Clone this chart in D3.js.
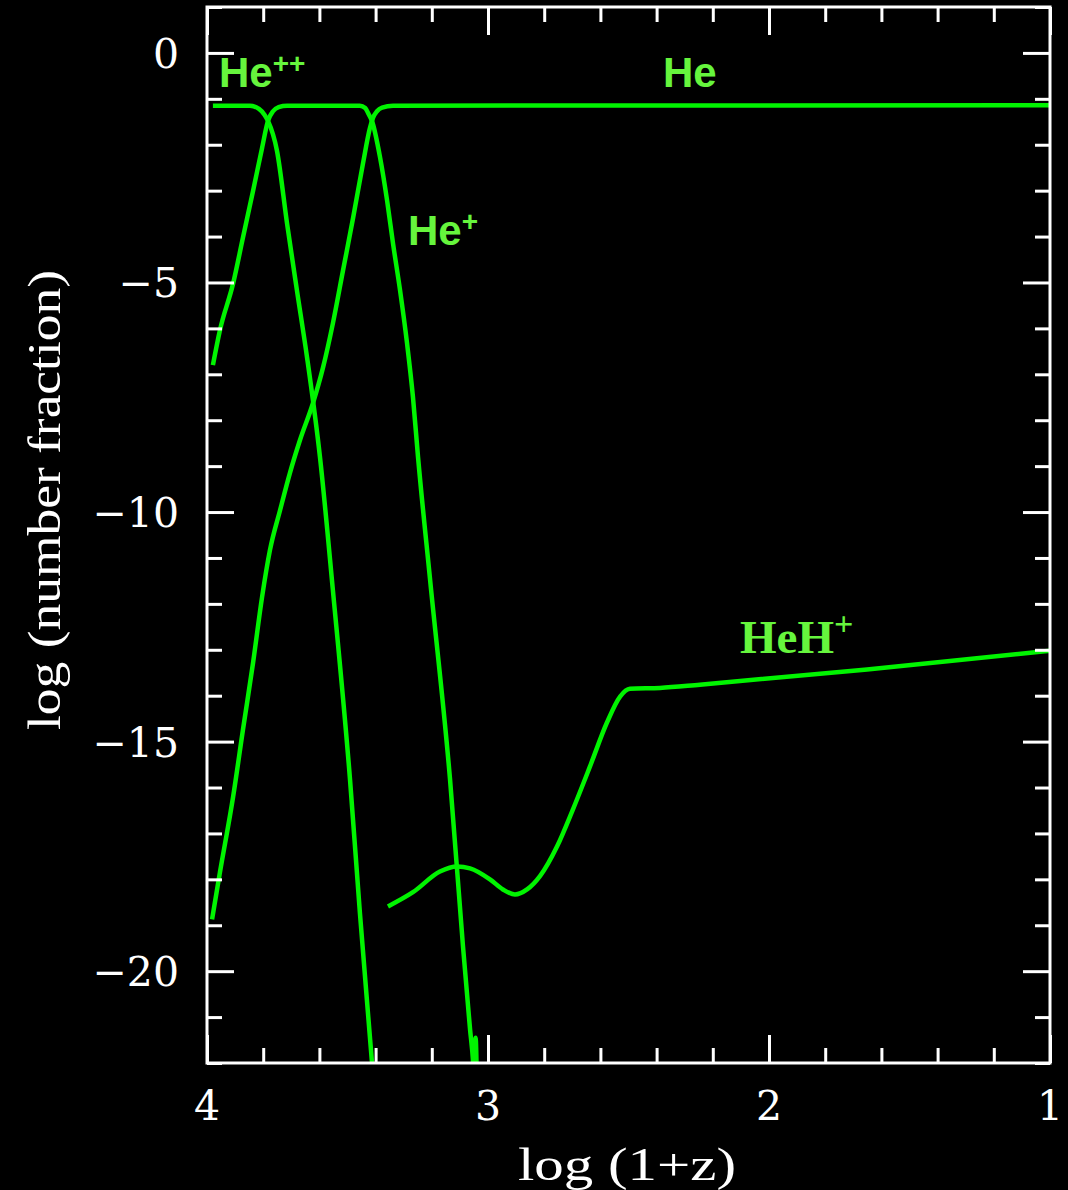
<!DOCTYPE html>
<html>
<head>
<meta charset="utf-8">
<script src="https://cdn.jsdelivr.net/npm/d3@7"></script>
<style>
  body { margin: 0; background: #000; }
  svg { display: block; }
  .tickLabel { font-family: "DejaVu Serif", serif; fill: #fff; }
</style>
</head>
<body>
<div id="chart"></div>
<script>

// log(1+z) on x, log(number fraction) on y
let heppX = [3.979, 3.847, 3.815, 3.795, 3.783, 3.751, 3.715, 3.680, 3.644, 3.598, 3.552, 3.491, 3.456, 3.413, 3.405];
let heppY = [-1.15, -1.15, -1.22, -1.35, -1.48, -2.13, -3.72, -5.17, -6.63, -8.80, -11.70, -15.83, -18.72, -21.98, -22.6];

let hepX = [3.979, 3.954, 3.907, 3.872, 3.836, 3.804, 3.783, 3.765, 3.745, 3.715, 3.456, 3.437, 3.425, 3.413, 3.384, 3.359, 3.338, 3.313, 3.288, 3.267, 3.249, 3.206, 3.135, 3.089, 3.064, 3.053, 3.050, 3.044, 3.040];
let hepY = [-6.80, -6.04, -5.02, -4.02, -3.00, -2.07, -1.48, -1.27, -1.18, -1.15, -1.15, -1.20, -1.33, -1.48, -2.28, -3.22, -4.15, -5.17, -6.33, -7.50, -8.80, -11.48, -15.83, -19.46, -21.26, -21.98, -22.3, -21.45, -22.3];

let heX = [3.982, 3.954, 3.907, 3.872, 3.836, 3.804, 3.776, 3.740, 3.705, 3.669, 3.623, 3.587, 3.552, 3.516, 3.480, 3.445, 3.420, 3.409, 3.395, 3.377, 3.338, 1.0];
let heY = [-18.87, -17.85, -16.20, -14.74, -13.28, -11.85, -10.83, -9.96, -9.15, -8.43, -7.63, -6.85, -5.89, -4.74, -3.59, -2.41, -1.63, -1.41, -1.27, -1.19, -1.15, -1.14];

let hehX = [3.356, 3.267, 3.171, 3.110, 3.064, 2.993, 2.947, 2.904, 2.861, 2.815, 2.754, 2.698, 2.637, 2.577, 2.530, 2.495, 2.388, 2.246, 1.651, 1.0];
let hehY = [-18.59, -18.28, -17.83, -17.72, -17.76, -18.00, -18.22, -18.33, -18.22, -17.93, -17.28, -16.48, -15.54, -14.59, -14.02, -13.85, -13.83, -13.76, -13.43, -13.02];

let xTicks = [4, 3, 2, 1];
let yTicks = [0, -5, -10, -15, -20];

let width = 1068, height = 1190;
let margin = {top: 7, right: 18, bottom: 127, left: 207};
let lineColor = "#00f400";
let labelColor = "#66f53d";

let svg = d3.select("#chart")
  .append("svg")
  .attr("width", width)
  .attr("height", height)
  .style("background", "#000");

let x = d3.scaleLinear().domain([4, 1]).range([margin.left, width - margin.right]);
let y = d3.scaleLinear().domain([-22, 1]).range([height - margin.bottom, margin.top]);

let x0 = margin.left, x1 = width - margin.right;
let y0 = height - margin.bottom, y1 = margin.top;

svg.append("clipPath")
  .attr("id", "plotClip")
  .append("rect")
  .attr("x", x0).attr("y", y1)
  .attr("width", x1 - x0).attr("height", y0 - y1);

function zip(xs, ys) {
  return xs.map((v, i) => [v, ys[i]]);
}

let line = d3.line()
  .x(d => x(d[0]))
  .y(d => y(d[1]))
  .curve(d3.curveMonotoneX);

let series = [
  {x: heppX, y: heppY},
  {x: hepX, y: hepY},
  {x: heX, y: heY},
  {x: hehX, y: hehY}
];

let lines = svg.append("g").attr("clip-path", "url(#plotClip)");
series.forEach(s => {
  lines.append("path")
    .attr("d", line(zip(s.x, s.y)))
    .attr("fill", "none")
    .attr("stroke", lineColor)
    .attr("stroke-width", 4.5)
    .attr("stroke-linejoin", "round");
});

// minor / major ticks on all four sides, pointing inward
let xMinor = d3.range(40, 9, -2).map(v => v / 10).filter(v => xTicks.indexOf(v) < 0);
let yMinor = d3.range(-22, 2).filter(v => yTicks.indexOf(v) < 0);

function addTicks(axis, tx, ty, size, values) {
  let g = svg.append("g")
    .attr("transform", "translate(" + tx + "," + ty + ")")
    .call(axis.tickValues(values).tickSizeInner(size).tickSizeOuter(0).tickFormat(""));
  g.select(".domain").remove();
  g.selectAll("line").attr("stroke", "#fff").attr("stroke-width", 3);
  return g;
}

addTicks(d3.axisBottom(x), 0, y0, -15, xMinor);
addTicks(d3.axisBottom(x), 0, y0, -28, xTicks);
addTicks(d3.axisTop(x), 0, y1, -15, xMinor);
addTicks(d3.axisTop(x), 0, y1, -28, xTicks);
addTicks(d3.axisLeft(y), x0, 0, -15, yMinor);
addTicks(d3.axisLeft(y), x0, 0, -27, yTicks);
addTicks(d3.axisRight(y), x1, 0, -15, yMinor);
addTicks(d3.axisRight(y), x1, 0, -27, yTicks);

svg.append("rect")
  .attr("x", x0).attr("y", y1)
  .attr("width", x1 - x0).attr("height", y0 - y1)
  .attr("fill", "none")
  .attr("stroke", "#fff")
  .attr("stroke-width", 3);

// tick labels
svg.selectAll(".xLab")
  .data(xTicks)
  .enter().append("text")
  .attr("class", "tickLabel")
  .attr("x", d => x(d))
  .attr("y", y0 + 57)
  .attr("text-anchor", "middle")
  .style("font-size", "41px")
  .text(d => d);

svg.selectAll(".yLab")
  .data(yTicks)
  .enter().append("text")
  .attr("class", "tickLabel")
  .attr("x", x0 - 28)
  .attr("y", d => y(d) + 15)
  .attr("text-anchor", "end")
  .style("font-size", "41px")
  .text(d => d === 0 ? "0" : "\u2212" + Math.abs(d));

// axis titles
svg.append("text")
  .attr("class", "tickLabel")
  .attr("x", 518)
  .attr("y", 1180)
  .attr("textLength", 218)
  .attr("lengthAdjust", "spacingAndGlyphs")
  .style("font-family", "Liberation Serif, serif")
  .style("font-size", "46px")
  .text("log (1+z)");

svg.append("text")
  .attr("class", "tickLabel")
  .attr("transform", "translate(60,730) rotate(-90)")
  .attr("textLength", 460)
  .attr("lengthAdjust", "spacingAndGlyphs")
  .style("font-family", "Liberation Serif, serif")
  .style("font-size", "46px")
  .text("log (number fraction)");

// species labels
function addLabel(tx, ty, base, sup, family, size, supSize, supDy) {
  let t = svg.append("text")
    .attr("x", tx)
    .attr("y", ty)
    .attr("fill", labelColor)
    .style("font-family", family)
    .style("font-weight", "bold")
    .style("font-size", size + "px");
  t.append("tspan").text(base);
  if (sup) {
    t.append("tspan")
      .attr("dy", supDy)
      .style("font-size", supSize + "px")
      .text(sup);
  }
}

addLabel(219, 87, "He", "++", "Liberation Sans, Arial, sans-serif", 42, 28, -14);
addLabel(663, 87, "He", null, "Liberation Sans, Arial, sans-serif", 42, 0, 0);
addLabel(408, 245, "He", "+", "Liberation Sans, Arial, sans-serif", 42, 28, -14);
addLabel(740, 653, "HeH", "+", "Liberation Serif, Times, serif", 47, 34, -18);

</script>
</body>
</html>
